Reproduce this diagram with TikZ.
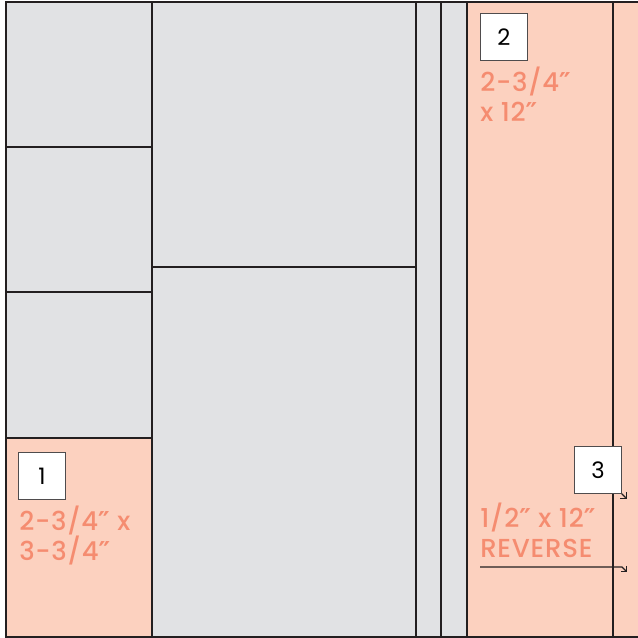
\documentclass[tikz,border=0pt]{standalone}
\usepackage{fontspec}
\setmainfont{Poppins}
\newfontfamily\labelfont{Poppins Medium}[LetterSpace=3]
\newfontfamily\primefont{DejaVu Sans}
\newcommand\inchmark{{\primefont\bfseries ″}}
\usetikzlibrary{arrows.meta,positioning}
\definecolor{patchgrey}{RGB}{225,226,228}
\definecolor{patchpink}{RGB}{252,209,191}
\definecolor{labelpink}{RGB}{245,140,112}
\definecolor{seamline}{RGB}{35,31,32}
\tikzset{
  greypatch/.style={draw=seamline, fill=patchgrey, line width=1pt},
  pinkpatch/.style={draw=seamline, fill=patchpink, line width=1pt},
  numbox/.style={draw=seamline!80, fill=white, line width=0.6pt, inner sep=0pt,
    minimum size=35pt, font=\fontsize{17}{20}\selectfont},
  sizelabel/.style={text=labelpink, align=left, inner sep=0pt,
    font=\fontsize{19.5}{22.5}\selectfont\labelfont},
  cutarrow/.style={-{Straight Barb[length=3pt,width=6pt]}, draw=seamline, line width=0.9pt}
}

\begin{document}
\begin{tikzpicture}[x=0.75pt, y=-0.75pt]
    \useasboundingbox (0,0) rectangle (638,638);
    % left column
    \draw[greypatch] (6,2) rectangle (152,147);
    \draw[greypatch] (6,147) rectangle (152,292);
    \draw[greypatch] (6,292) rectangle (152,438);
    \draw[pinkpatch] (6,438) rectangle (152,637);
    % centre
    \draw[greypatch] (152,2) rectangle (416,267);
    \draw[greypatch] (152,267) rectangle (416,637);
    % strips
    \draw[greypatch] (416,2) rectangle (441,637);
    \draw[greypatch] (441,2) rectangle (467,637);
    \draw[pinkpatch] (467,2) rectangle (613,637);
    \draw[pinkpatch] (613,2) rectangle (645,637);

    \node[numbox] (n1) at (42,476) {1};
    \node[numbox] (n2) at (504,37) {2};
    \node[numbox] (n3) at (598,470) {3};
    \node[sizelabel, anchor=base west] (l1) at (19,560) {2-3/4\inchmark{} x\\3-3/4\inchmark};
    \node[sizelabel, anchor=base west] (l2) at (480,122) {2-3/4\inchmark\\x 12\inchmark};
    \node[sizelabel, anchor=base west] (l3) at (480,557) {1/2\inchmark{} x 12\inchmark\\REVERSE};

    \coordinate (revstart) at (480,567);
    \draw[cutarrow] (n3.south east) -- ++(5,5);
    \draw[cutarrow] (revstart) -- (622,567) -- ++(5,5);
  \end{tikzpicture}
\end{document}
